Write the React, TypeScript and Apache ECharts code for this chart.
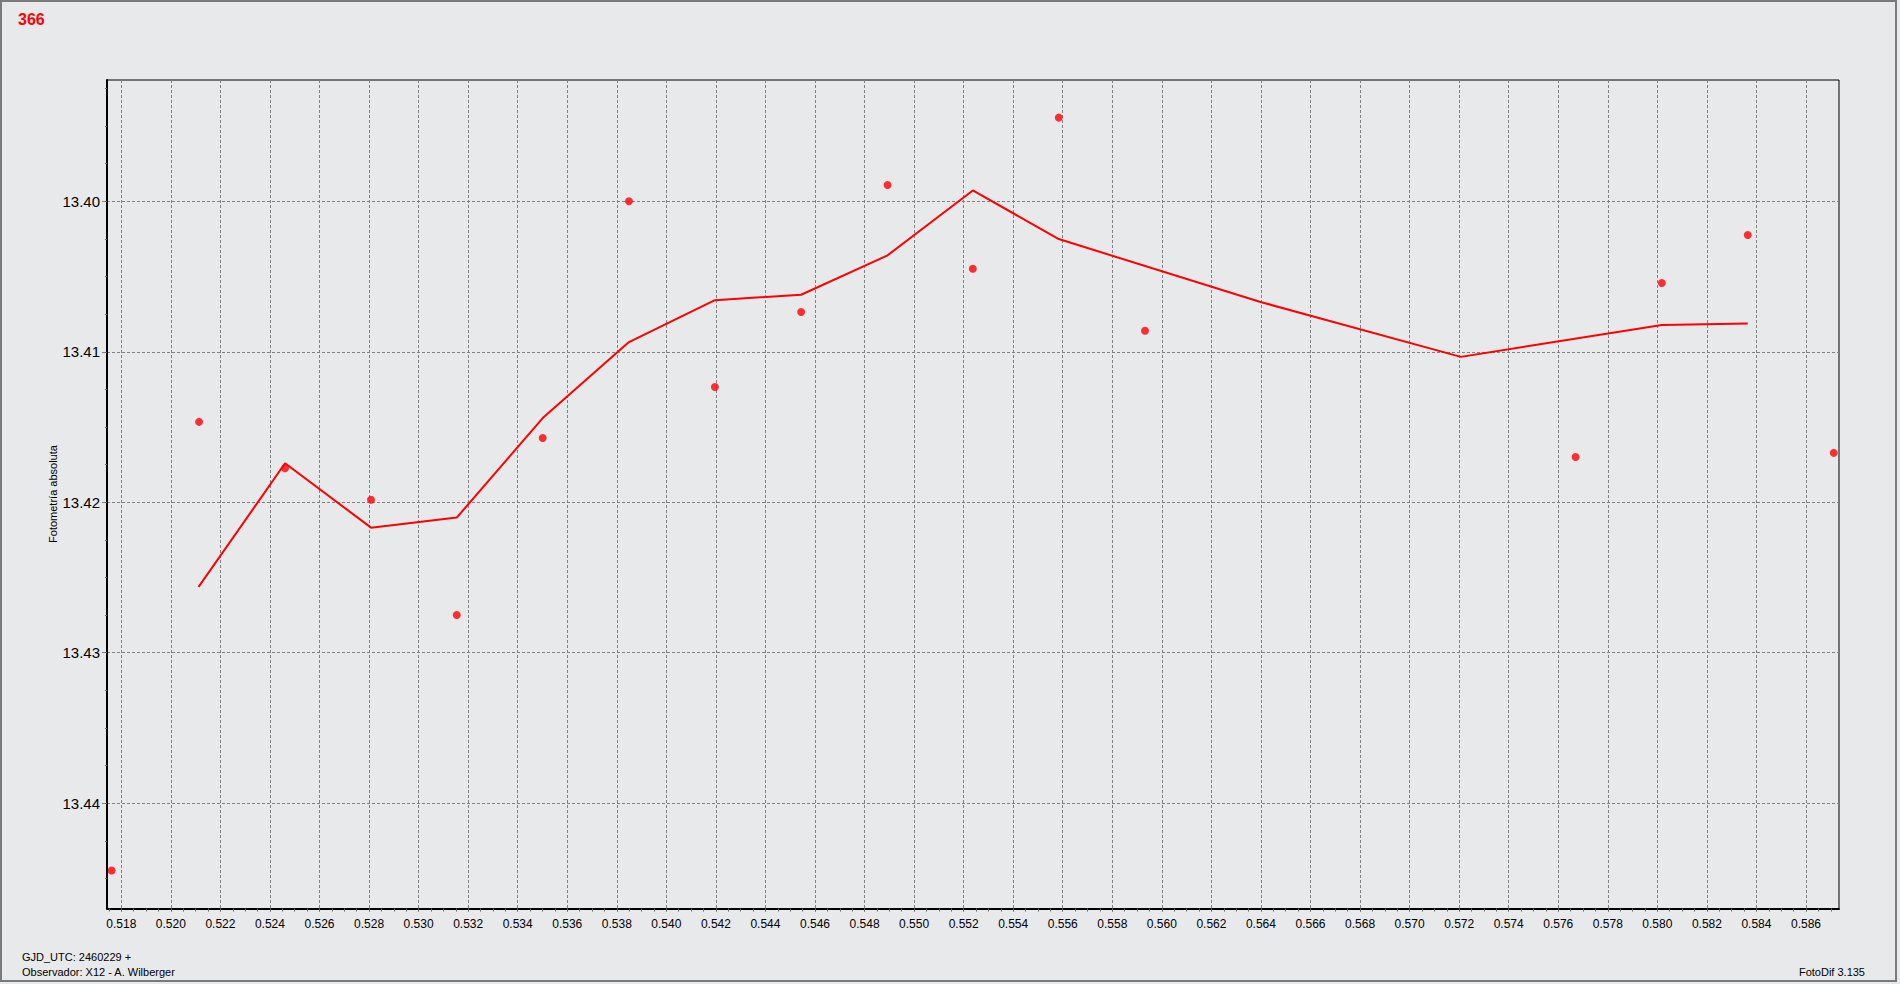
import React, { useEffect, useRef } from "react";
import * as echarts from "echarts";

// ---- texts ----
const titleText = "366";
const yAxisName = "Fotometría absoluta";
const footerLines = ["GJD_UTC: 2460229 +", "Observador: X12 - A. Wilberger"];
const versionText = "FotoDif 3.135";

// ---- measured points (x = fractional GJD, y = magnitude) ----
const pointX = [
  0.51761, 0.52114, 0.52461, 0.52808, 0.53154, 0.53501, 0.53849, 0.54196, 0.54544,
  0.54893, 0.55237, 0.55584, 0.55932, 0.5767, 0.58018, 0.58365, 0.58712,
];
const pointY = [
  13.44448, 13.41466, 13.41774, 13.41983, 13.42749, 13.41573, 13.4, 13.41234, 13.40736,
  13.39892, 13.40448, 13.39444, 13.4086, 13.41699, 13.40543, 13.40224, 13.41672,
];

// ---- red average line vertices ----
const avgX = [
  0.52112, 0.52461, 0.52808, 0.53154, 0.53501, 0.53849, 0.54196, 0.54544, 0.54893,
  0.55237, 0.55584, 0.56395, 0.57207, 0.58018, 0.58365,
];
const avgY = [
  13.42563, 13.41741, 13.42169, 13.42102, 13.41441, 13.40936, 13.40657, 13.40621, 13.40359,
  13.39928, 13.40251, 13.40668, 13.41034, 13.40822, 13.40813,
];

// ---- axis tick labels ----
const xTickLabels = [
  "0.518", "0.520", "0.522", "0.524", "0.526", "0.528", "0.530", "0.532", "0.534", "0.536",
  "0.538", "0.540", "0.542", "0.544", "0.546", "0.548", "0.550", "0.552", "0.554", "0.556",
  "0.558", "0.560", "0.562", "0.564", "0.566", "0.568", "0.570", "0.572", "0.574", "0.576",
  "0.578", "0.580", "0.582", "0.584", "0.586",
];
const yTickLabels = ["13.40", "13.41", "13.42", "13.43", "13.44"];
const xRange = [0.517423, 0.587332];
const yRange = [13.39194, 13.447];

function minorTicks(min: number, max: number, step: number): number[] {
  const out: number[] = [];
  const start = Math.ceil(min / step - 1e-9);
  const end = Math.floor(max / step + 1e-9);
  for (let i = start; i <= end; i++) out.push(+(i * step).toFixed(6));
  return out;
}

export default function App() {
  const ref = useRef<HTMLDivElement>(null);
  useEffect(() => {
    if (!ref.current) return;
    const chart = echarts.init(ref.current, undefined, { renderer: "svg" });
    const xMajor = xTickLabels.map(Number);
    const yMajor = yTickLabels.map(Number);
    const xMinor = minorTicks(xRange[0], xRange[1], 0.0005);
    const yMinor = minorTicks(yRange[0], yRange[1], 0.0025);
    const font = "Liberation Sans";
    const gridLine = { show: true, lineStyle: { color: "#808080", width: 1, type: [3, 2] as any } };

    chart.setOption({
      animation: false,
      backgroundColor: "#e8e9eb",
      grid: {
        left: 107,
        top: 80,
        width: 1732,
        height: 828.5,
        show: true,
        borderColor: "#000",
        borderWidth: 1,
        backgroundColor: "transparent",
      },
      xAxis: [
        {
          type: "value",
          position: "bottom",
          min: xRange[0],
          max: xRange[1],
          axisLine: { show: true, lineStyle: { color: "#000", width: 2 } },
          axisTick: { show: true, customValues: xMajor, length: 3, lineStyle: { color: "#666" } },
          axisLabel: {
            customValues: xMajor,
            formatter: (v: number) => v.toFixed(3),
            fontSize: 12,
            fontFamily: font,
            color: "#000",
            margin: 9,
          },
          splitLine: gridLine,
        },
        {
          type: "value",
          position: "bottom",
          min: xRange[0],
          max: xRange[1],
          axisLine: { show: false },
          axisTick: { show: true, customValues: xMinor, length: 3, lineStyle: { color: "#666" } },
          axisLabel: { show: false },
          splitLine: { show: false },
        },
      ],
      yAxis: [
        {
          type: "value",
          position: "left",
          inverse: true,
          min: yRange[0],
          max: yRange[1],
          axisLine: { show: true, lineStyle: { color: "#000", width: 2 } },
          axisTick: { show: true, customValues: yMajor, length: 5, lineStyle: { color: "#808080" } },
          axisLabel: {
            customValues: yMajor,
            formatter: (v: number) => v.toFixed(2),
            fontSize: 15,
            fontFamily: "Liberation Sans Narrow, Liberation Sans",
            color: "#000",
            margin: 7,
          },
          splitLine: gridLine,
        },
        {
          type: "value",
          position: "left",
          inverse: true,
          min: yRange[0],
          max: yRange[1],
          axisLine: { show: false },
          axisTick: { show: true, customValues: yMinor, length: 2, lineStyle: { color: "#666" } },
          axisLabel: { show: false },
          splitLine: { show: false },
        },
      ],
      series: [
        {
          type: "line",
          data: avgX.map((x, i) => [x, avgY[i]]),
          showSymbol: false,
          symbol: "none",
          lineStyle: { color: "#ff0000", width: 2 },
          z: 3,
        },
        {
          type: "scatter",
          data: pointX.map((x, i) => [x, pointY[i]]),
          symbol: "circle",
          symbolSize: 8,
          itemStyle: { color: "#ff0000" },
          z: 4,
        },
      ],
      graphic: [
        {
          type: "rect",
          shape: { x: 1, y: 1, width: 1895, height: 980 },
          style: { fill: "none", stroke: "#7a7a7a", lineWidth: 2 },
          silent: true,
        },
        {
          type: "text",
          x: 18,
          y: 19,
          style: {
            text: titleText,
            fill: "#ff0000",
            fontSize: 16,
            fontWeight: "bold",
            fontFamily: font,
            align: "left",
            verticalAlign: "middle",
          },
        },
        {
          type: "text",
          x: 53,
          y: 494,
          rotation: Math.PI / 2,
          style: {
            text: yAxisName,
            fill: "#000",
            fontSize: 11,
            fontFamily: font,
            align: "center",
            verticalAlign: "middle",
          },
        },
        {
          type: "text",
          x: 22,
          y: 957,
          style: {
            text: footerLines[0],
            fill: "#000",
            fontSize: 11,
            fontFamily: font,
            align: "left",
            verticalAlign: "middle",
          },
        },
        {
          type: "text",
          x: 22,
          y: 972,
          style: {
            text: footerLines[1],
            fill: "#000",
            fontSize: 11,
            fontFamily: font,
            align: "left",
            verticalAlign: "middle",
          },
        },
        {
          type: "text",
          x: 1865,
          y: 972,
          style: {
            text: versionText,
            fill: "#000",
            fontSize: 11,
            fontFamily: font,
            align: "right",
            verticalAlign: "middle",
          },
        },
      ],
    });
    return () => chart.dispose();
  }, []);
  return (
    <div
      ref={ref}
      style={{ position: "fixed", left: 0, top: 0, width: 1900, height: 984 }}
    />
  );
}
